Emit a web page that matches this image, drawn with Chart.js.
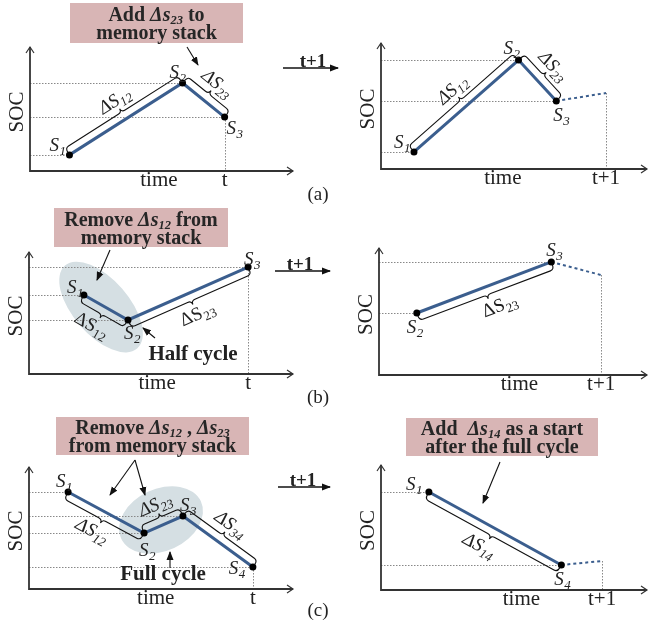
<!DOCTYPE html>
<html>
<head>
<meta charset="utf-8">
<script src="https://cdn.jsdelivr.net/npm/chart.js@4.4.1/dist/chart.umd.min.js"></script>
<style>
  body { margin: 0; background: #fff; }
  #page { position: relative; width: 651px; height: 629px; overflow: hidden;
          font-family: "Liberation Serif", "Times New Roman", serif; color: #222; }
  #page canvas, #page svg { position: absolute; left: 0; top: 0; }
  .box { position: absolute; background: #d8b5b5; font-weight: bold; font-size: 20px; line-height: 18px;
         text-align: center; display: flex; align-items: center; justify-content: center; white-space: nowrap; color: #262626; }
  .box sub { font-size: 12.5px; line-height: 0; vertical-align: -3px; }
  .tag { position: absolute; transform: translate(-50%, -50%); white-space: nowrap; line-height: 1; }
</style>
</head>
<body>
<div id="page"></div>
<script>
// ---- values (time and SOC in % of each axis) ----
// (a) memory stack at time t and t+1
const aLeftTime = [15, 58, 74];
const aLeftSoc = [13, 71, 43.5];
const aLeftNames = ['1', '2', '3'];
const aRightTime = [12.4, 51.7, 65.9];
const aRightSoc = [13.5, 86.5, 54];
const aRightNames = ['1', '2', '3'];
const aRightNextTime = [65.9, 84.6];
const aRightNextSoc = [54, 60.3];

// (b) half cycle
const bLeftTime = [20.8, 37.5, 83];
const bLeftSoc = [64.8, 44.3, 87.7];
const bLeftNames = ['1', '2', '3'];
const bRightTime = [14.1, 64.3];
const bRightSoc = [48.8, 89];
const bRightNames = ['2', '3'];
const bRightNextTime = [64.3, 82.9];
const bRightNextSoc = [89, 78.7];

// (c) full cycle
const cLeftTime = [14.8, 43.6, 58.3, 84.8];
const cLeftSoc = [79.5, 45.9, 59.8, 18];
const cLeftNames = ['1', '2', '3', '4'];
const cRightTime = [18, 67.8];
const cRightSoc = [78.4, 20];
const cRightNames = ['1', '4'];
const cRightNextTime = [67.8, 83.1];
const cRightNextSoc = [20, 23.2];

const BLUE = '#3b5e8e';
const INK = '#222';
const SERIF = '"Liberation Serif", "Times New Roman", serif';
const W = 651, H = 629;

// panel layout: plot box [left, top, right, bottom], label nudges, braces
const panels = [
  { area: [30, 47, 293, 171], time: aLeftTime, soc: aLeftSoc, names: aLeftNames,
    nudge: [[-12, -10], [-5, -11], [10, 11]],
    braces: [{ i: 0, j: 1, side: 'up', sub: '12' }, { i: 1, j: 2, side: 'up', sub: '23' }],
    italic: true, xTag: 't', timeAt: 0.49 },
  { area: [381, 43, 648, 169], time: aRightTime, soc: aRightSoc, names: aRightNames,
    nextTime: aRightNextTime, nextSoc: aRightNextSoc,
    nudge: [[-12, -10], [-7, -12], [5, 14]],
    braces: [{ i: 0, j: 1, side: 'up', sub: '12' }, { i: 1, j: 2, side: 'up', sub: '23' }],
    italic: true, xTag: 't+1', timeAt: 0.458 },
  { area: [29, 252, 293, 374], time: bLeftTime, soc: bLeftSoc, names: bLeftNames,
    nudge: [[-9, -8], [4, 13], [4, -8]],
    braces: [{ i: 0, j: 1, side: 'down', sub: '12', along: -4 }, { i: 1, j: 2, side: 'down', sub: '23' }],
    ellipse: { x: 27.3, y: 54.9, rx: 55, ry: 28, rot: 49 },
    italic: false, xTag: 't', timeAt: 0.485 },
  { area: [379, 248, 648, 375], time: bRightTime, soc: bRightSoc, names: bRightNames,
    nextTime: bRightNextTime, nextSoc: bRightNextSoc,
    nudge: [[-2, 14], [3, -12]],
    braces: [{ i: 0, j: 1, side: 'down', sub: '23', along: 8 }],
    italic: false, xTag: 't+1', timeAt: 0.524 },
  { area: [29, 467, 293, 589], time: cLeftTime, soc: cLeftSoc, names: cLeftNames,
    nudge: [[-4, -11], [3, 17], [5, -11], [-16, 1]],
    braces: [{ i: 0, j: 1, side: 'down', sub: '12', along: -4 }, { i: 1, j: 2, side: 'up', sub: '23' },
             { i: 2, j: 3, side: 'up', sub: '34' }],
    ellipse: { x: 50, y: 56.6, rx: 44, ry: 31, rot: -25 },
    italic: true, xTag: 't', timeAt: 0.48 },
  { area: [381, 465, 648, 590], time: cRightTime, soc: cRightSoc, names: cRightNames,
    nextTime: cRightNextTime, nextSoc: cRightNextSoc,
    nudge: [[-15, -8], [1, 14]],
    braces: [{ i: 0, j: 1, side: 'down', sub: '14', along: -6 }],
    italic: true, xTag: 't+1', timeAt: 0.528 }
];

// text with a subscript, centred on (x, y), optionally rotated
function subText(ctx, main, sub, x, y, size, style, angle) {
  const big = style + size + 'px ' + SERIF, small = style + Math.round(size * 0.68) + 'px ' + SERIF;
  ctx.save();
  ctx.translate(x, y);
  ctx.rotate(angle || 0);
  ctx.fillStyle = INK;
  ctx.textBaseline = 'alphabetic';
  ctx.font = big;
  const w1 = ctx.measureText(main).width;
  ctx.font = small;
  const w2 = ctx.measureText(sub).width;
  const x0 = -(w1 + w2) / 2, base = size * 0.33;
  ctx.font = big;
  ctx.fillText(main, x0, base);
  ctx.font = small;
  ctx.fillText(sub, x0 + w1 + 0.5, base + size * 0.2);
  ctx.restore();
}

// curly brace running alongside segment a-b
function brace(ctx, a, b, side) {
  const dx = b.x - a.x, dy = b.y - a.y, L = Math.hypot(dx, dy);
  const ux = dx / L, uy = dy / L;
  let nx = -uy, ny = ux;
  if ((side === 'up') !== (ny < 0)) { nx = -nx; ny = -ny; }
  const P = (u, v) => [a.x + ux * u + nx * v, a.y + uy * u + ny * v];
  const g = 3, w = 5, tip = 4, r = 4, u0 = 0, u1 = L, m = L / 2;
  ctx.beginPath();
  ctx.moveTo(...P(u0, g));
  ctx.quadraticCurveTo(...P(u0, g + w), ...P(u0 + r, g + w));
  ctx.lineTo(...P(m - r, g + w));
  ctx.quadraticCurveTo(...P(m, g + w), ...P(m, g + w + tip));
  ctx.quadraticCurveTo(...P(m, g + w), ...P(m + r, g + w));
  ctx.lineTo(...P(u1 - r, g + w));
  ctx.quadraticCurveTo(...P(u1, g + w), ...P(u1, g));
  ctx.stroke();
  return { P, m, angle: Math.atan2(dy, dx), reach: g + w + tip };
}

function decor(p) {
  const px = (chart, t, s) => ({ x: chart.scales.x.getPixelForValue(t), y: chart.scales.y.getPixelForValue(s) });
  const line = (ctx, x1, y1, x2, y2) => { ctx.beginPath(); ctx.moveTo(x1, y1); ctx.lineTo(x2, y2); ctx.stroke(); };
  return {
    id: 'decor',
    beforeDatasetsDraw(chart) {
      const ctx = chart.ctx, a = chart.chartArea;
      ctx.save();
      if (p.ellipse) {
        const c = px(chart, p.ellipse.x, p.ellipse.y);
        ctx.fillStyle = '#d5dfe3';
        ctx.beginPath();
        ctx.ellipse(c.x, c.y, p.ellipse.rx, p.ellipse.ry, p.ellipse.rot * Math.PI / 180, 0, Math.PI * 2);
        ctx.fill();
      }
      // dotted guides to the axes
      ctx.strokeStyle = '#888';
      ctx.lineWidth = 1;
      ctx.setLineDash([1.5, 1.5]);
      p.time.forEach((t, i) => {
        const q = px(chart, t, p.soc[i]);
        line(ctx, a.left, Math.round(q.y) + 0.5, q.x, Math.round(q.y) + 0.5);
      });
      const end = p.nextTime ? px(chart, p.nextTime[1], p.nextSoc[1]) : px(chart, p.time[p.time.length - 1], p.soc[p.soc.length - 1]);
      line(ctx, Math.round(end.x) + 0.5, end.y, Math.round(end.x) + 0.5, a.bottom);
      ctx.setLineDash([]);
      // axes with open arrow heads
      ctx.strokeStyle = '#333';
      ctx.lineWidth = 1.8;
      ctx.beginPath();
      ctx.moveTo(a.left, a.top);
      ctx.lineTo(a.left, a.bottom);
      ctx.lineTo(a.right, a.bottom);
      ctx.stroke();
      ctx.lineWidth = 1.2;
      ctx.beginPath();
      ctx.moveTo(a.left - 4, a.top + 6); ctx.lineTo(a.left, a.top); ctx.lineTo(a.left + 4, a.top + 6);
      ctx.moveTo(a.right - 6, a.bottom - 4); ctx.lineTo(a.right, a.bottom); ctx.lineTo(a.right - 6, a.bottom + 4);
      ctx.stroke();
      ctx.restore();
    },
    afterDatasetsDraw(chart) {
      const ctx = chart.ctx, a = chart.chartArea;
      ctx.save();
      ctx.strokeStyle = '#111';
      ctx.lineWidth = 1.1;
      p.braces.forEach(br => {
        const A = px(chart, p.time[br.i], p.soc[br.i]), B = px(chart, p.time[br.j], p.soc[br.j]);
        const r = brace(ctx, A, B, br.side);
        const [lx, ly] = r.P(r.m + (br.along || 0), r.reach + 10);
        subText(ctx, '\u0394S', br.sub, lx, ly, 19, p.italic ? 'italic ' : '', r.angle);
      });
      p.names.forEach((n, i) => {
        const q = px(chart, p.time[i], p.soc[i]);
        subText(ctx, 'S', n, q.x + p.nudge[i][0], q.y + p.nudge[i][1], 19, 'italic ', 0);
      });
      ctx.fillStyle = INK;
      ctx.font = '21px ' + SERIF;
      ctx.textAlign = 'center';
      ctx.textBaseline = 'alphabetic';
      ctx.fillText('time', a.left + p.timeAt * (a.right - a.left), a.bottom + 15);
      const tx = p.nextTime ? p.nextTime[1] : p.time[p.time.length - 1];
      ctx.fillText(p.xTag, chart.scales.x.getPixelForValue(tx), a.bottom + 15);
      ctx.translate(a.left - 7, (a.top + a.bottom) / 2 + 3);
      ctx.rotate(-Math.PI / 2);
      ctx.fillText('SOC', 0, 0);
      ctx.restore();
    }
  };
}

const page = document.getElementById('page');

panels.forEach(p => {
  const canvas = document.createElement('canvas');
  canvas.width = W;
  canvas.height = H;
  page.appendChild(canvas);
  const datasets = [{
    data: p.time.map((t, i) => ({ x: t, y: p.soc[i] })),
    borderColor: BLUE, borderWidth: 3, tension: 0, clip: false,
    pointRadius: 3.5, pointBackgroundColor: '#000', pointBorderWidth: 0
  }];
  if (p.nextTime) {
    datasets.push({
      data: p.nextTime.map((t, i) => ({ x: t, y: p.nextSoc[i] })),
      borderColor: BLUE, borderWidth: 2, borderDash: [3, 3], tension: 0, clip: false, pointRadius: 0
    });
  }
  new Chart(canvas, {
    type: 'line',
    data: { datasets },
    options: {
      responsive: false,
      animation: false,
      events: [],
      layout: { padding: { left: p.area[0], top: p.area[1], right: W - p.area[2], bottom: H - p.area[3] } },
      scales: {
        x: { type: 'linear', min: 0, max: 100, display: false },
        y: { type: 'linear', min: 0, max: 100, display: false }
      },
      plugins: { legend: { display: false }, tooltip: { enabled: false } }
    },
    plugins: [decor(p)]
  });
});

// pointer arrows (page pixels)
const arrows = [
  [283, 68, 338, 68, 1.5], [275, 271, 330, 271, 1.5], [278, 487, 330, 487, 1.5],
  [187, 47, 198, 65, 1.1], [110, 250, 97, 280, 1.1], [155, 338, 143, 328, 1.1],
  [135, 460, 110, 495, 1.1], [135, 460, 145, 495, 1.1], [170, 568, 170, 552, 1.1],
  [500, 462, 483, 503, 1.1]
];
let svg = '<svg width="' + W + '" height="' + H + '" xmlns="http://www.w3.org/2000/svg">' +
  '<defs><marker id="ah" markerWidth="9" markerHeight="8" refX="8" refY="4" orient="auto" markerUnits="userSpaceOnUse">' +
  '<path d="M0,0.5 L9,4 L0,7.5 z" fill="#111"/></marker></defs>';
arrows.forEach(([x1, y1, x2, y2, w]) => {
  svg += '<line x1="' + x1 + '" y1="' + y1 + '" x2="' + x2 + '" y2="' + y2 + '" stroke="#111" stroke-width="' + w + '" marker-end="url(#ah)"/>';
});
svg += '</svg>';
page.insertAdjacentHTML('beforeend', svg);

// pink notes
const notes = [
  [70, 3, 173, 40, 'Add <i>\u0394s<sub>23</sub></i> to<br>memory stack'],
  [54, 208, 174, 39, 'Remove <i>\u0394s<sub>12</sub></i> from<br>memory stack'],
  [56, 417, 193, 38, 'Remove <i>\u0394s<sub>12</sub></i> , <i>\u0394s<sub>23</sub></i><br>from memory stack'],
  [406, 418, 192, 38, 'Add&nbsp; <i>\u0394s<sub>14</sub></i> as a start<br>after the full cycle']
];
notes.forEach(([x, y, w, h, html]) => {
  page.insertAdjacentHTML('beforeend',
    '<div class="box" style="left:' + x + 'px;top:' + y + 'px;width:' + w + 'px;height:' + h + 'px"><div>' + html + '</div></div>');
});

// free text
const tags = [
  [313, 61, 'bold 19px', 't+1'], [300, 264, 'bold 19px', 't+1'], [303, 480, 'bold 19px', 't+1'],
  [318, 194, '19px', '(a)'], [318, 397, '19px', '(b)'], [318, 610, '19px', '(c)'],
  [193, 353, 'bold 21px', 'Half cycle'], [163, 573, 'bold 21px', 'Full cycle']
];
tags.forEach(([x, y, f, txt]) => {
  page.insertAdjacentHTML('beforeend',
    '<div class="tag" style="left:' + x + 'px;top:' + y + 'px;font:' + f + ' ' + SERIF.replace(/"/g, "'") + '">' + txt + '</div>');
});
</script>
</body>
</html>
